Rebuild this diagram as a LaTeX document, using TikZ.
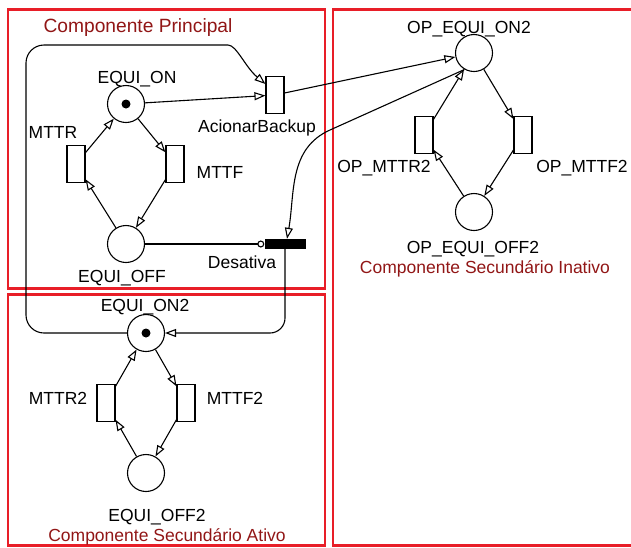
\documentclass[tikz,border=0pt]{standalone}
\usepackage{fontspec}
\setmainfont{Liberation Sans}
\usepackage{tikz}
\usetikzlibrary{arrows.meta, positioning, calc}
\definecolor{FrameRed}{RGB}{232,30,40}
\definecolor{TitleRed}{RGB}{145,22,22}
\tikzset{
  >={Triangle[open,length=11pt,width=8pt]},  % punte aperte
  % Lugares e transicoes
  place/.style={circle,draw,line width=1.1pt,minimum size=37pt,inner sep=0pt},
  token/.style={circle,fill=black,minimum size=9pt,inner sep=0pt},
  timed trans/.style={rectangle,draw,line width=1.1pt,minimum width=18pt,minimum height=37pt,inner sep=0pt},
  imm trans/.style={rectangle,fill=black,minimum width=41pt,minimum height=10pt,inner sep=0pt},
  % Arcos
  connect arrow/.style={->,line width=1.1pt},
  connect inhib/.style={-{Circle[open,length=7pt,width=7pt]},line width=1.1pt},
  % Textos e molduras
  lbl/.style={font=\fontsize{17.5}{20}\selectfont,inner sep=0pt,text height=12.5pt,text depth=0pt},
  grp title/.style={lbl,TitleRed},
  red frame/.style={FrameRed,line width=2.6pt}
}

\begin{document}
\begin{tikzpicture}[x=1pt,y=-1pt]
  \useasboundingbox (0,0) rectangle (631,547);
  \draw[red frame] (8,9.5) rectangle (325,288.5);
  \draw[red frame] (8,294.5) rectangle (325,545.5);
  \draw[red frame] (640,9.5) -| (333,545.5) -- (640,545.5);
  \node[grp title,font=\fontsize{19.2}{22}\selectfont,text height=13.7pt] (t-princ) at (138,26) {Componente Principal};
  \node[grp title] (t-inat) at (485,267) {Componente Secundário Inativo};
  \node[grp title] (t-ativo) at (167,535) {Componente Secundário Ativo};

  \node[place] (on) at (126,104) {};
  \node[token] (tok1) at (on) {};
  \node[timed trans] (mttr) at (76,164) {};
  \node[timed trans] (mttf) at (175,164) {};
  \node[place] (off) at (126,244) {};
  \node[timed trans] (acion) at (275,95) {};
  \node[imm trans] (desat) at (285,244) {};

  \node[place] (on2) at (146,333) {};
  \node[token] (tok2) at (on2) {};
  \node[timed trans] (mttr2) at (106,403) {};
  \node[timed trans] (mttf2) at (186,403) {};
  \node[place] (off2) at (146,473) {};

  \node[place] (opon) at (474,53) {};
  \node[timed trans] (opmttr) at (424,135) {};
  \node[timed trans] (opmttf) at (523,135) {};
  \node[place] (opoff) at (474,212) {};

  \node[lbl] (on-lbl) at (137,77) {EQUI\_ON};
  \node[lbl] (mttr-lbl) at (53,132) {MTTR};
  \node[lbl] (mttf-lbl) at (220,172) {MTTF};
  \node[lbl] (off-lbl) at (122,276) {EQUI\_OFF};
  \node[lbl] (acion-lbl) at (257,126) {AcionarBackup};
  \node[lbl] (desat-lbl) at (242,262) {Desativa};
  \node[lbl] (on2-lbl) at (145,305) {EQUI\_ON2};
  \node[lbl] (mttr2-lbl) at (58,398) {MTTR2};
  \node[lbl] (mttf2-lbl) at (235,398) {MTTF2};
  \node[lbl] (off2-lbl) at (157,515) {EQUI\_OFF2};
  \node[lbl] (opon-lbl) at (469,27) {OP\_EQUI\_ON2};
  \node[lbl] (opmttr-lbl) at (384,166) {OP\_MTTR2};
  \node[lbl] (opmttf-lbl) at (582,166) {OP\_MTTF2};
  \node[lbl] (opoff-lbl) at (473,247) {OP\_EQUI\_OFF2};

  \draw[connect arrow] (on) -- (mttf);
  \draw[connect arrow] (mttf) -- (off);
  \draw[connect arrow] (off) -- (mttr);
  \draw[connect arrow] (mttr) -- (on);
  \draw[connect arrow] (on2) -- (mttf2);
  \draw[connect arrow] (mttf2) -- (off2);
  \draw[connect arrow] (off2) -- (mttr2);
  \draw[connect arrow] (mttr2) -- (on2);
  \draw[connect arrow] (opon) -- (opmttf);
  \draw[connect arrow] (opmttf) -- (opoff);
  \draw[connect arrow] (opoff) -- (opmttr);
  \draw[connect arrow] (opmttr) -- (opon);

  \draw[connect arrow] (on) -- (acion);
  \draw[connect arrow] (on2.west) [rounded corners=18pt] -| (26,45) -- (210,45) [sharp corners] to[out=0,in=140] ([yshift=11pt]acion.west);
  \draw[connect arrow] (acion) -- (opon);
  \coordinate (bend) at (330,130);
  \draw[connect arrow] (opon.240) -- (bend) to[out=204,in=80] ([xshift=2pt]desat.north);
  \draw[connect inhib] (off) -- (desat);
  \draw[connect arrow,rounded corners=15pt] (desat.south) |- (on2.east);
\end{tikzpicture}
\end{document}
